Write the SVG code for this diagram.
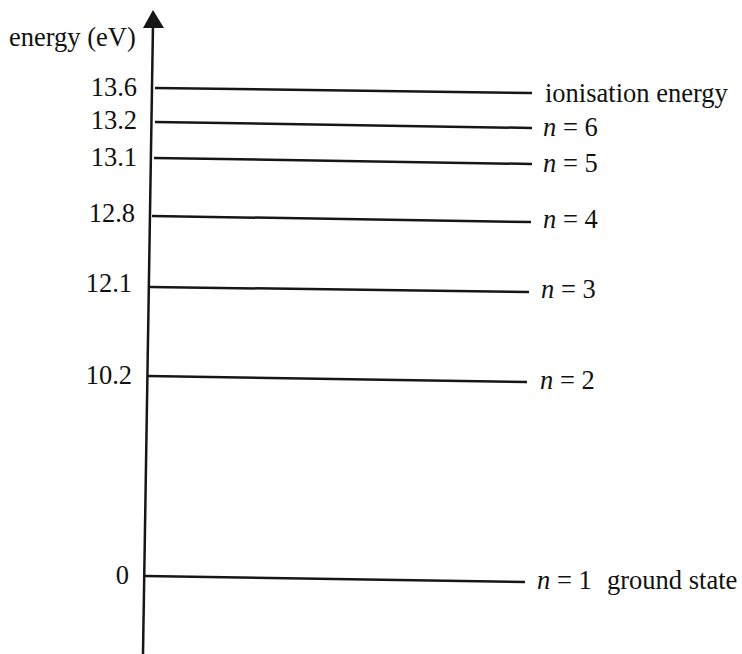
<svg xmlns="http://www.w3.org/2000/svg" width="742" height="654" viewBox="0 0 742 654">
<style>
text{font-family:"Liberation Serif","Times New Roman",serif;font-size:26.5px;fill:#111}
.l{text-anchor:end}
.lv{stroke:#161616;stroke-width:2.5;fill:none}
</style>
<rect width="742" height="654" fill="#fff"/>
<g id="axis">
<line class="lv" x1="153" y1="24" x2="143" y2="654"/>
<polygon points="153,10 143,28 164,28" fill="#161616"/>
<text x="9" y="46">energy (eV)</text>
</g>
<g id="connectors">
<line class="lv" x1="155" y1="88" x2="532" y2="93"/>
<line class="lv" x1="155" y1="122" x2="532" y2="128"/>
<line class="lv" x1="154" y1="158" x2="532" y2="164"/>
<line class="lv" x1="152" y1="216" x2="531" y2="222"/>
<line class="lv" x1="150" y1="287" x2="529" y2="292"/>
<line class="lv" x1="148" y1="376" x2="527" y2="382"/>
<line class="lv" x1="145" y1="576" x2="525" y2="582"/>
</g>
<g id="level-ion"><text class="l" x="137" y="96">13.6</text><text x="545" y="102">ionisation energy</text></g>
<g id="level-6"><text class="l" x="137" y="129">13.2</text><text x="543" y="136"><tspan font-style="italic">n</tspan> = 6</text></g>
<g id="level-5"><text class="l" x="137" y="166">13.1</text><text x="543" y="172"><tspan font-style="italic">n</tspan> = 5</text></g>
<g id="level-4"><text class="l" x="135" y="222">12.8</text><text x="543" y="228"><tspan font-style="italic">n</tspan> = 4</text></g>
<g id="level-3"><text class="l" x="132" y="292">12.1</text><text x="541" y="298"><tspan font-style="italic">n</tspan> = 3</text></g>
<g id="level-2"><text class="l" x="132" y="384">10.2</text><text x="540" y="389"><tspan font-style="italic">n</tspan> = 2</text></g>
<g id="level-1"><text class="l" x="129" y="584">0</text><text x="537" y="589"><tspan font-style="italic">n</tspan> = 1</text><text x="607" y="589">ground state</text></g>
</svg>
